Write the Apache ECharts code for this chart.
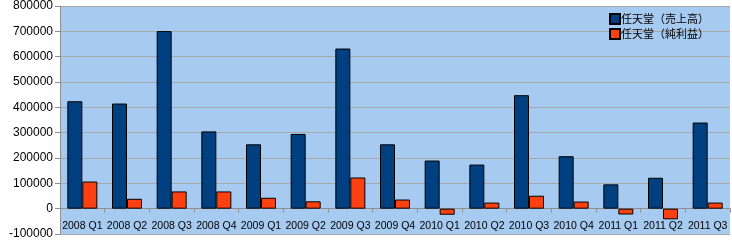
<!DOCTYPE html>
<html>
<head>
<meta charset="utf-8">
<script src="https://cdn.jsdelivr.net/npm/echarts@6/dist/echarts.min.js"></script>
<style>html,body{margin:0;padding:0;background:#fff}#c{width:732px;height:240px}</style>
</head>
<body>
<div id="c"></div>
<script>
var categories = ['2008 Q1','2008 Q2','2008 Q3','2008 Q4','2009 Q1','2009 Q2','2009 Q3','2009 Q4','2010 Q1','2010 Q2','2010 Q3','2010 Q4','2011 Q1','2011 Q2','2011 Q3'];
var salesName = '任天堂（売上高）';
var profitName = '任天堂（純利益）';
var sales = [424000, 415000, 701000, 305000, 254000, 295000, 632000, 254000, 190000, 174000, 448000, 207000, 96000, 122000, 340000];
var profit = [107000, 39000, 68000, 68000, 43000, 29000, 123000, 36000, -24000, 24000, 51000, 28000, -23000, -42000, 24000];

var chart = echarts.init(document.getElementById('c'), null, {renderer: 'canvas'});
chart.setOption({
  animation: false,
  backgroundColor: '#ffffff',
  grid: {left: 60, right: 2, top: 6, bottom: 6, show: true, backgroundColor: '#A6CAF0', borderWidth: 0,
         outerBoundsMode: 'none'},
  legend: {
    orient: 'vertical', left: 604, top: 8, itemWidth: 10, itemHeight: 10, itemGap: 3,
    icon: 'rect',
    textStyle: {fontFamily: 'Noto Sans CJK JP', fontSize: 11, color: '#000', padding: [0,0,0,-4]},
    data: [salesName, profitName]
  },
  xAxis: {
    type: 'category', data: categories,
    axisLine: {onZero: true, lineStyle: {color: '#909090'}},
    axisTick: {show: true, length: 4, lineStyle: {color: '#909090'}},
    axisLabel: {show: true, interval: 0, hideOverlap: false, margin: -13, fontFamily: 'Liberation Sans', fontSize: 10.5, color: '#000'}
  },
  yAxis: {
    type: 'value', min: -100000, max: 800000, interval: 100000,
    axisLine: {show: true, lineStyle: {color: '#909090'}},
    axisTick: {show: true, length: 5, lineStyle: {color: '#909090'}},
    axisLabel: {margin: 7, fontFamily: 'Liberation Sans', fontSize: 12, color: '#000',
                formatter: function (v) { return String(v); }},
    splitLine: {show: true, lineStyle: {color: '#A8A8A8'}}
  },
  series: [
    {name: salesName, type: 'bar', data: sales, barWidth: 15, barGap: '0%',
     itemStyle: {color: '#003F80', borderColor: '#000', borderWidth: 1}},
    {name: profitName, type: 'bar', data: profit, barWidth: 15, barGap: '0%',
     itemStyle: {color: '#FF4010', borderColor: '#000', borderWidth: 1}}
  ]
});
</script>
</body>
</html>
